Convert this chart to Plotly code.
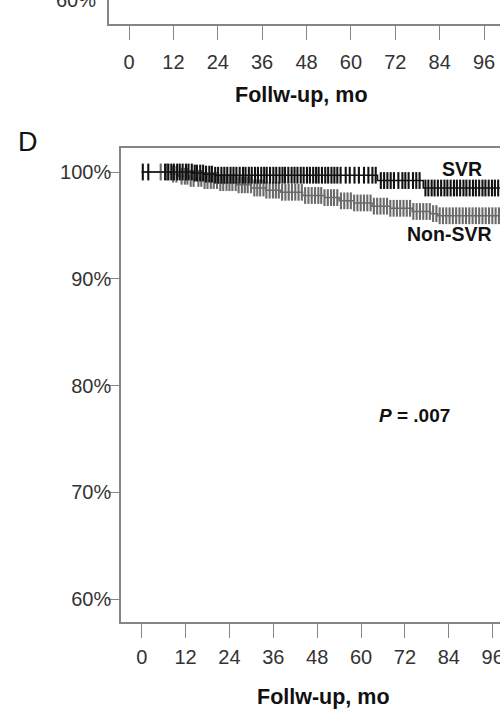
import numpy as np
import plotly.graph_objects as go

# ---------------- data ----------------
months_ticks = [0, 12, 24, 36, 48, 60, 72, 84, 96]
pct_ticks = [60, 70, 80, 90, 100]
pct_labels = ["60%", "70%", "80%", "90%", "100%"]

# Kaplan-Meier step curves (time in months, survival %)
svr_t = [0, 14, 17, 20, 64.5, 77, 104]
svr_s = [100, 99.9, 99.8, 99.7, 99.2, 98.5, 98.5]

nonsvr_t = [0, 8, 10, 13, 17, 21, 26, 30, 34, 38, 44, 50, 54, 58, 63, 68, 74, 79, 81, 104]
nonsvr_s = [100, 99.8, 99.6, 99.4, 99.2, 99.0, 98.8, 98.5, 98.3, 98.1, 97.8, 97.6,
            97.3, 97.1, 96.8, 96.6, 96.3, 96.1, 95.9, 95.9]

# censoring times (months)
svr_cens = [0.3, 1.8, 6.4, 7.3, 8.1, 8.8, 9.7, 10.4, 11.2, 12.1, 12.8, 13.7, 14.5, 15.1,
            16.0, 16.8, 17.6, 18.5, 19.2, 20.1, 20.9, 21.8, 22.6, 23.4, 24.3, 25.1, 25.9,
            26.8, 27.7, 28.4, 29.3, 30.1, 31.0, 31.8, 32.7, 33.5, 34.2, 35.1, 36.0, 36.8,
            37.7, 38.5, 39.2, 40.1, 41.0, 41.8, 42.6, 43.5, 44.3, 45.2, 46.0, 46.9, 47.7,
            48.4, 49.3, 50.2, 51.0, 51.9, 52.7, 53.5, 54.4, 55.8, 56.9, 58.2, 59.4, 60.8,
            62.0, 63.1, 64.0, 65.4, 66.3, 67.2, 68.1, 69.0, 70.2, 71.3, 72.1, 73.0, 74.2,
            75.1, 76.0, 77.6, 78.4, 79.3, 80.1, 81.0, 81.9, 82.8, 83.6, 84.5, 85.4, 86.2,
            87.1, 88.0, 88.8, 89.7, 90.6, 91.4, 92.3, 93.2, 94.0, 94.9, 95.8, 96.6, 97.5,
            98.4, 99.3, 100.2, 101.1, 102.0, 102.9]
nonsvr_cens = [5.2, 6.9, 8.6, 9.5, 10.9, 11.8, 12.5, 13.4, 14.2, 15.5, 16.3, 17.2, 18.0,
               18.9, 19.7, 20.6, 21.5, 22.3, 23.2, 24.0, 24.8, 25.7, 26.5, 27.4, 28.2,
               29.0, 29.9, 30.8, 31.6, 32.4, 33.3, 34.1, 35.0, 35.9, 36.7, 37.5, 38.4,
               39.3, 40.2, 41.1, 42.0, 42.9, 43.8, 44.7, 45.6, 46.5, 47.4, 48.3, 49.1,
               50.0, 50.9, 51.8, 52.6, 53.5, 54.5, 55.4, 56.3, 57.2, 58.1, 59.0, 59.9,
               60.8, 61.7, 62.6, 63.5, 64.4, 65.3, 66.2, 67.1, 68.0, 68.9, 69.8, 70.7,
               71.6, 72.5, 73.4, 74.3, 75.2, 76.1, 77.0, 77.9, 78.8, 79.7, 80.6, 81.5,
               82.4, 83.3, 84.2, 85.1, 86.0, 86.9, 87.8, 88.7, 89.6, 90.5, 91.4, 92.3,
               93.2, 94.1, 95.0, 95.9, 96.8, 97.7, 98.6, 99.5, 100.4, 101.3, 102.2, 103.1]


def step_at(ts, ss, x):
    ts = np.asarray(ts)
    ss = np.asarray(ss)
    idx = np.searchsorted(ts, np.asarray(x), side="right") - 1
    return ss[idx]


W, H = 520, 710
FONT = "Liberation Sans, Arial, sans-serif"
AX = "#858585"
TICKC = "#333333"


def px_x(p):
    return p / W


def px_y(p):
    return 1 - p / H


fig = go.Figure()

svr_col = "#121212"
non_col = "#6a6a6a"

fig.add_trace(go.Scatter(x=nonsvr_t, y=nonsvr_s, mode="lines", line_shape="hv",
                         line=dict(color=non_col, width=1.5), showlegend=False,
                         xaxis="x", yaxis="y"))
fig.add_trace(go.Scatter(x=nonsvr_cens, y=step_at(nonsvr_t, nonsvr_s, nonsvr_cens),
                         mode="markers",
                         marker=dict(symbol="line-ns", size=12,
                                     line=dict(color=non_col, width=2.1)),
                         showlegend=False, xaxis="x", yaxis="y"))
fig.add_trace(go.Scatter(x=svr_t, y=svr_s, mode="lines", line_shape="hv",
                         line=dict(color=svr_col, width=1.5), showlegend=False,
                         xaxis="x", yaxis="y"))
fig.add_trace(go.Scatter(x=svr_cens, y=step_at(svr_t, svr_s, svr_cens),
                         mode="markers",
                         marker=dict(symbol="line-ns", size=12,
                                     line=dict(color=svr_col, width=2.1)),
                         showlegend=False, xaxis="x", yaxis="y"))

# dummy trace for top (partial) panel
fig.add_trace(go.Scatter(x=[], y=[], xaxis="x2", yaxis="y2", showlegend=False))

tickfont = dict(family=FONT, size=20, color=TICKC)

# px per month
sb = 351.0 / 96
st = 355.0 / 96

fig.update_layout(
    width=W, height=H,
    margin=dict(l=0, r=0, t=0, b=0),
    paper_bgcolor="white", plot_bgcolor="white",
    xaxis=dict(domain=[px_x(121), 1], range=[(121 - 141.7) / sb, (W - 141.7) / sb], anchor="y",
               tickvals=months_ticks, ticktext=[str(v) for v in months_ticks],
               ticks="outside", ticklen=14, tickwidth=1.3, tickcolor=AX,
               showline=True, linecolor=AX, linewidth=1.5, mirror=True,
               showgrid=False, zeroline=False, tickfont=tickfont,
               ticklabelstandoff=2),
    yaxis=dict(domain=[px_y(622), px_y(148)], range=[57.845, 102.248], anchor="x",
               tickvals=pct_ticks, ticktext=pct_labels,
               ticks="outside", ticklen=11, tickwidth=1.3, tickcolor=AX,
               showline=True, linecolor=AX, linewidth=1.5,
               showgrid=False, zeroline=False, tickfont=tickfont,
               ticklabelstandoff=-7),
    xaxis2=dict(domain=[px_x(109.3), 1], range=[(109.3 - 129) / st, (W - 129) / st], anchor="y2",
                tickvals=months_ticks, ticktext=[str(v) for v in months_ticks],
                ticks="outside", ticklen=14, tickwidth=1.3, tickcolor=AX,
                showline=True, linecolor=AX, linewidth=1.5,
                showgrid=False, zeroline=False, tickfont=tickfont,
                ticklabelstandoff=5),
    yaxis2=dict(domain=[px_y(24), 1], range=[0, 1], anchor="x2",
                showticklabels=False, ticks="",
                showline=True, linecolor=AX, linewidth=1.5,
                showgrid=False, zeroline=False),
)

ann = []
ann.append(dict(text="<b>Follw-up, mo</b>", x=px_x(301), y=px_y(95), xref="paper", yref="paper",
                showarrow=False, xanchor="center", yanchor="middle",
                font=dict(family=FONT, size=21.5, color="#111111")))
ann.append(dict(text="<b>Follw-up, mo</b>", x=px_x(323), y=px_y(697), xref="paper", yref="paper",
                showarrow=False, xanchor="center", yanchor="middle",
                font=dict(family=FONT, size=21.5, color="#111111")))
ann.append(dict(text="60%", x=px_x(98), y=px_y(0), xref="paper", yref="paper",
                showarrow=False, xanchor="right", yanchor="middle",
                font=dict(family=FONT, size=20, color=TICKC)))
ann.append(dict(text="D", x=px_x(27.5), y=px_y(142), xref="paper", yref="paper",
                showarrow=False, xanchor="center", yanchor="middle",
                font=dict(family=FONT, size=27, color="#111111")))
ann.append(dict(text="<b>SVR</b>", x=px_x(462), y=px_y(168.5), xref="paper", yref="paper",
                showarrow=False, xanchor="center", yanchor="middle",
                font=dict(family=FONT, size=19.5, color="#111111")))
ann.append(dict(text="<b>Non-SVR</b>", x=px_x(449), y=px_y(234), xref="paper", yref="paper",
                showarrow=False, xanchor="center", yanchor="middle",
                font=dict(family=FONT, size=19.5, color="#111111")))
ann.append(dict(text="<b><i>P</i> = .007</b>", x=px_x(414), y=px_y(415), xref="paper", yref="paper",
                showarrow=False, xanchor="center", yanchor="middle",
                font=dict(family=FONT, size=19, color="#111111")))
fig.update_layout(annotations=ann)

fig.write_html("out.html")
